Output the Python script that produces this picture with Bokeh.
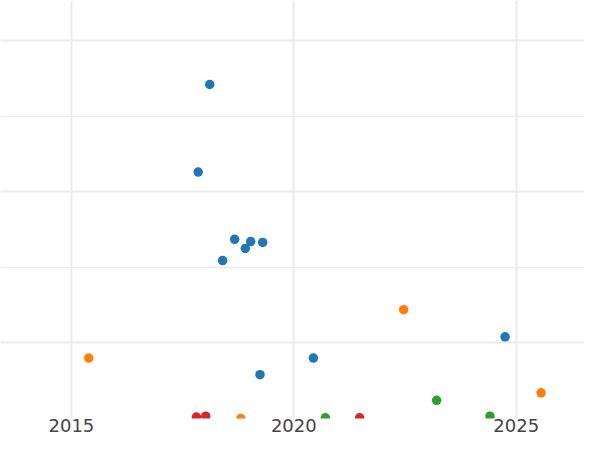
from bokeh.plotting import figure
from bokeh.models import FixedTicker, Range1d
from bokeh.embed import file_html
from bokeh.resources import INLINE

# Data
series_names = ["A", "B", "C", "D"]
series_colors = ["#1f77b4", "#ff7f0e", "#2ca02c", "#d62728"]

a_year = [2018.11, 2017.85, 2018.67, 2019.03, 2019.30, 2018.91, 2018.40, 2020.44, 2019.24, 2024.75]
a_value = [4.42, 3.26, 2.37, 2.34, 2.33, 2.25, 2.09, 0.80, 0.58, 1.08]

b_year = [2015.39, 2022.47, 2025.56, 2018.81]
b_value = [0.80, 1.44, 0.34, 0.00]

c_year = [2023.21, 2020.71, 2024.41]
c_value = [0.24, 0.01, 0.03]

d_year = [2017.81, 2018.02, 2021.48]
d_value = [0.02, 0.03, 0.01]

x_ticks = [2015, 2020, 2025]
y_major = [1, 3, 5]
y_minor = [2, 4]

p = figure(width=584, height=434, output_backend="svg", toolbar_location=None,
           x_range=Range1d(2013.406, 2026.535), y_range=Range1d(0, 5.53),
           min_border_left=0, min_border_right=0, min_border_top=0, min_border_bottom=0)
p.outline_line_color = None
p.background_fill_color = "white"
p.border_fill_color = "white"

for xs, ys, c in zip([a_year, b_year, c_year, d_year], [a_value, b_value, c_value, d_value], series_colors):
    p.scatter(xs, ys, size=9.5, fill_color=c, line_color=None)

p.yaxis.visible = False
p.xaxis.ticker = FixedTicker(ticks=x_ticks)
p.xaxis.axis_line_color = None
p.xaxis.major_tick_line_color = None
p.xaxis.minor_tick_line_color = None
p.xaxis.major_tick_in = 0
p.xaxis.major_tick_out = 0
p.xaxis.major_label_standoff = 0
p.xaxis.major_label_text_font = "DejaVu Sans"
p.xaxis.major_label_text_font_size = "18px"
p.xaxis.major_label_text_color = "#444444"

p.xgrid.ticker = FixedTicker(ticks=x_ticks)
p.xgrid.grid_line_color = "#ebebeb"
p.xgrid.grid_line_width = 2
p.ygrid.ticker = FixedTicker(ticks=y_major, minor_ticks=y_minor)
p.ygrid.grid_line_color = "#ebebeb"
p.ygrid.grid_line_width = 2
p.ygrid.minor_grid_line_color = "#ebebeb"
p.ygrid.minor_grid_line_width = 1

open("out.html", "w").write(file_html(p, INLINE))
